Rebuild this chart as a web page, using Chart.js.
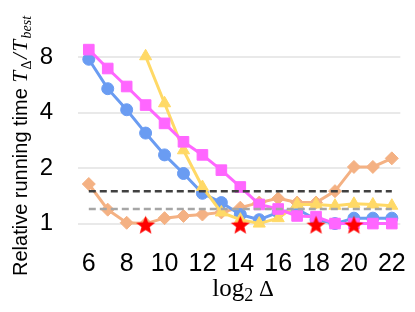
<!DOCTYPE html>
<html>
<head>
<meta charset="utf-8">
<script src="https://cdn.jsdelivr.net/npm/chart.js@4.4.1/dist/chart.umd.min.js"></script>
<style>
    html, body { margin: 0; padding: 0; background: #fff; }
    #wrap { width: 415px; height: 312px; }
</style>
</head>
<body>
<div id="wrap"><canvas id="chart" width="415" height="312"></canvas></div>
<script>
// log2(delta) positions
const logDelta = [6, 7, 8, 9, 10, 11, 12, 13, 14, 15, 16, 17, 18, 19, 20, 21, 22];

// relative running time per series (null = not measured)
const blueTimes = [7.8, 5.4, 4.15, 3.1, 2.36, 1.87, 1.46, 1.3, 1.12, 1.05, 1.15, 1.2, 1.05, 1.0, 1.07, 1.07, 1.07];
const pinkTimes = [8.8, 6.95, 5.55, 4.4, 3.5, 2.78, 2.36, 1.95, 1.58, 1.27, 1.2, 1.1, 1.09, 1.0, 1.0, 1.0, 1.0];
const yellowTimes = [null, null, null, 8.1, 4.5, 2.5, 1.58, 1.15, 1.05, 1.0, 1.07, 1.27, 1.27, 1.25, 1.28, 1.27, 1.25];
const orangeTimes = [1.64, 1.19, 1.01, 1.0, 1.07, 1.1, 1.12, 1.15, 1.22, 1.3, 1.37, 1.3, 1.3, 1.5, 2.03, 2.03, 2.26];

// best configurations (red stars)
const bestDelta = [9, 14, 18, 20];
const bestTimes = [0.98, 0.98, 0.98, 0.98];

// horizontal reference levels
const refSpan = [6, 22];
const darkRef = 1.5;
const grayRef = 1.2;

const xTicks = [6, 8, 10, 12, 14, 16, 18, 20, 22];
const yTicks = [1, 2, 4, 8];

function toPoints(xs, ys) {
    const pts = [];
    xs.forEach(function (x, i) {
        if (ys[i] !== null && ys[i] !== undefined) {
            pts.push({ x: x, y: ys[i] });
        }
    });
    return pts;
}

function makeStar() {
    const c = document.createElement('canvas');
    c.width = 21;
    c.height = 21;
    const ctx = c.getContext('2d');
    const cx = 10.5, cy = 11, outer = 10, inner = 4.3;
    ctx.beginPath();
    for (let i = 0; i < 10; i++) {
        const r = i % 2 === 0 ? outer : inner;
        const a = -Math.PI / 2 + i * Math.PI / 5;
        const px = cx + r * Math.cos(a);
        const py = cy + r * Math.sin(a);
        if (i === 0) ctx.moveTo(px, py); else ctx.lineTo(px, py);
    }
    ctx.closePath();
    ctx.fillStyle = '#ff0000';
    ctx.fill();
    return c;
}

function seriesStyle(color, style, radius) {
    return {
        borderColor: color,
        backgroundColor: color,
        pointBackgroundColor: color,
        pointBorderColor: color,
        pointBorderWidth: 1,
        pointStyle: style,
        pointRadius: radius,
        borderWidth: 3,
        tension: 0,
        clip: false,
    };
}

function refLine(level, color) {
    return {
        data: refSpan.map(function (x) { return { x: x, y: level }; }),
        borderColor: color,
        borderWidth: 2.5,
        borderDash: [7, 4],
        pointRadius: 0,
        clip: false,
    };
}

const axisTitles = {
    id: 'axisTitles',
    afterDraw(chart) {
        const ctx = chart.ctx;
        ctx.save();
        ctx.fillStyle = '#000';
        ctx.textBaseline = 'alphabetic';
        ctx.textAlign = 'left';

        // y title, rotated
        ctx.save();
        ctx.translate(27, 276);
        ctx.rotate(-Math.PI / 2);
        let x = 0;
        ctx.font = '20px "Liberation Sans", Arial, sans-serif';
        ctx.fillText('Relative running time', x, 0);
        x += ctx.measureText('Relative running time ').width;
        const parts = [
            ['T', 'italic 21px "Liberation Serif", serif', 0],
            ['Δ', '14px "Liberation Serif", serif', 4],
            ['/', 'italic 21px "Liberation Serif", serif', 0],
            ['T', 'italic 21px "Liberation Serif", serif', 0],
            ['best', 'italic 14px "Liberation Serif", serif', 4],
        ];
        parts.forEach(function (p) {
            ctx.font = p[1];
            ctx.fillText(p[0], x, p[2]);
            x += ctx.measureText(p[0]).width + 1.5;
        });
        ctx.restore();

        // x title
        const segs = [
            ['log', '25px "Liberation Serif", serif', 0],
            ['2', '18px "Liberation Serif", serif', 5],
            [' Δ', '23px "Liberation Serif", serif', 0],
        ];
        let total = 0;
        segs.forEach(function (s) {
            ctx.font = s[1];
            total += ctx.measureText(s[0]).width;
        });
        let sx = 243 - total / 2;
        segs.forEach(function (s) {
            ctx.font = s[1];
            ctx.fillText(s[0], sx, 296 + s[2]);
            sx += ctx.measureText(s[0]).width;
        });
        ctx.restore();
    },
};

const starImg = makeStar();

new Chart(document.getElementById('chart'), {
    type: 'line',
    data: {
        datasets: [
            Object.assign({ data: toPoints(bestDelta, bestTimes), showLine: false, order: 0 },
                { pointStyle: starImg, pointRadius: 10, clip: false }),
            Object.assign(refLine(darkRef, '#404040'), { order: 1 }),
            Object.assign(refLine(grayRef, '#a6a6a6'), { order: 2 }),
            Object.assign({ data: toPoints(logDelta, pinkTimes), order: 3 }, seriesStyle('#ff66ff', 'rect', 7.5)),
            Object.assign({ data: toPoints(logDelta, yellowTimes), order: 4 }, seriesStyle('#ffd966', 'triangle', 7)),
            Object.assign({ data: toPoints(logDelta, blueTimes), order: 5 }, seriesStyle('#6a9cf2', 'circle', 6)),
            Object.assign({ data: toPoints(logDelta, orangeTimes), order: 6 }, seriesStyle('#f4b183', 'rectRot', 6.5)),
        ],
    },
    options: {
        responsive: false,
        devicePixelRatio: 1,
        animation: false,
        layout: { padding: { left: 30, right: 9, top: 8, bottom: 0 } },
        plugins: {
            legend: { display: false },
            tooltip: { enabled: false },
        },
        scales: {
            x: {
                type: 'linear',
                min: 5.43,
                max: 22.45,
                grid: { display: false },
                border: { display: false },
                ticks: {
                    padding: 9,
                    color: '#000',
                    font: { size: 25, family: '"Liberation Sans", Arial, sans-serif' },
                    callback: function (v) { return String(v); },
                },
                afterBuildTicks: function (scale) {
                    scale.ticks = xTicks.map(function (v) { return { value: v }; });
                },
                afterFit: function (scale) {
                    scale.height = 80;
                },
            },
            y: {
                type: 'logarithmic',
                min: 0.9,
                max: 10,
                grid: { color: '#e9e9e9', lineWidth: 2, drawTicks: false },
                border: { display: false },
                ticks: {
                    padding: 25,
                    color: '#000',
                    font: { size: 24, family: '"Liberation Sans", Arial, sans-serif' },
                    callback: function (v) { return String(v); },
                },
                afterBuildTicks: function (scale) {
                    scale.ticks = yTicks.map(function (v) { return { value: v }; });
                },
                afterFit: function (scale) {
                    scale.width = 48;
                },
            },
        },
    },
    plugins: [axisTitles],
});
</script>
</body>
</html>
